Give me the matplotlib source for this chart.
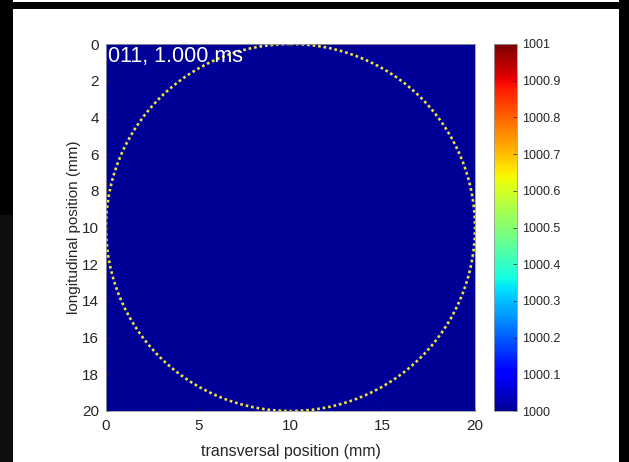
import numpy as np
import matplotlib
matplotlib.use("Agg")
import matplotlib.pyplot as plt
from matplotlib.patches import Circle, Rectangle
from matplotlib.colors import ListedColormap

plt.rcParams['font.family'] = ['Liberation Sans', 'DejaVu Sans']

# Field of values on a 20 mm x 20 mm domain
x_range = [0, 20]
y_range = [0, 20]
grid_size = 101
field_value = 1000.0
field = np.full((grid_size, grid_size), field_value)

# Colour limits and ticks
c_limits = [1000, 1001]
c_ticks = [1000, 1000.1, 1000.2, 1000.3, 1000.4, 1000.5, 1000.6, 1000.7, 1000.8, 1000.9, 1001]
c_tick_labels = ['1000', '1000.1', '1000.2', '1000.3', '1000.4', '1000.5',
                 '1000.6', '1000.7', '1000.8', '1000.9', '1001']
x_ticks = [0, 5, 10, 15, 20]
y_ticks = [0, 2, 4, 6, 8, 10, 12, 14, 16, 18, 20]

# Boundary circle
circle_center = (10, 10)
circle_radius = 10

frame_label = "011, 1.000 ms"

# jet with a slightly brighter dark-blue end
jet_cmap = ListedColormap(plt.get_cmap('jet')(np.linspace(0.02, 1.0, 256)))

fig = plt.figure(figsize=(6.29, 4.62), dpi=100)
fig.patch.set_facecolor('white')

W, H = 629, 462
def px(x0, y0, x1, y1):
    return [x0 / W, 1 - y1 / H, (x1 - x0) / W, (y1 - y0) / H]

# dark surround of the window
for (x0, y0, x1, y1, col) in [(0, 0, 13, 215, '#000000'),
                              (0, 215, 13, 462, '#0e0e0e'),
                              (619, 0, 629, 462, '#000000'),
                              (0, 2, 629, 9, '#000000')]:
    fig.patches.append(Rectangle((x0 / W, 1 - y1 / H), (x1 - x0) / W, (y1 - y0) / H,
                                 transform=fig.transFigure, facecolor=col,
                                 edgecolor='none', zorder=0))

ax = fig.add_axes(px(106, 44, 475, 411))
im = ax.imshow(field, cmap=jet_cmap, vmin=c_limits[0], vmax=c_limits[1],
               extent=[x_range[0], x_range[1], y_range[1], y_range[0]],
               aspect='auto', interpolation='nearest')
ax.add_patch(Circle(circle_center, circle_radius, fill=False,
                    edgecolor='#f0e43c', linewidth=1.9,
                    linestyle=(0, (1.0, 1.1)), capstyle='butt'))
ax.set_xlim(x_range)
ax.set_ylim(y_range[1], y_range[0])
ax.set_xticks(x_ticks)
ax.set_yticks(y_ticks)
ax.tick_params(direction='in', length=3, width=0.5, colors='#262626',
               labelsize=11)
ax.tick_params(axis='x', pad=6)
ax.tick_params(axis='y', pad=5)
for s in ax.spines.values():
    s.set_color('#9a9a9a')
    s.set_linewidth(0.6)
ax.set_xlabel('transversal position (mm)', fontsize=11.5, color='#262626', labelpad=8)
ax.set_ylabel('longitudinal position (mm)', fontsize=11, color='#262626', labelpad=1)
ax.text(0.005, 0.995, frame_label, transform=ax.transAxes, color='white',
        fontsize=15.5, ha='left', va='top')

cax = fig.add_axes(px(494, 44, 517, 411))
cb = fig.colorbar(im, cax=cax, ticks=c_ticks)
cb.ax.set_yticklabels(c_tick_labels)
cb.ax.tick_params(direction='in', length=3, width=0.5, colors='#262626',
                  labelsize=9, pad=4)
cb.outline.set_edgecolor('#9a9a9a')
cb.outline.set_linewidth(0.6)

fig.savefig('out.png', dpi=100)
